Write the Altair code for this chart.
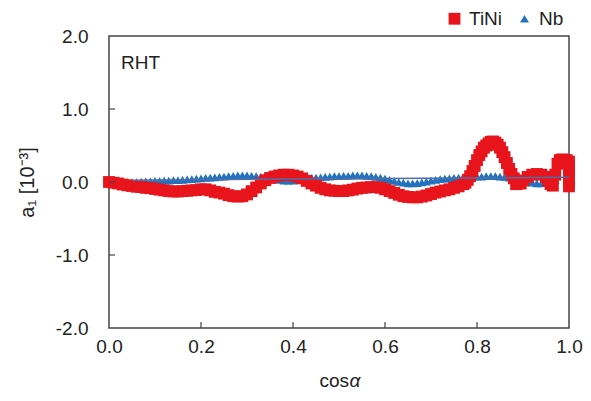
import altair as alt
import pandas as pd

# ---- data ----
tini_x = [0.00, 0.01, 0.02, 0.03, 0.04, 0.05, 0.06, 0.07, 0.08, 0.09,
          0.10, 0.11, 0.12, 0.13, 0.14, 0.15, 0.16, 0.17, 0.18, 0.19,
          0.20, 0.21, 0.22, 0.23, 0.24, 0.25, 0.26, 0.27, 0.28, 0.29,
          0.30, 0.31, 0.32, 0.33, 0.34, 0.35, 0.36, 0.37, 0.38, 0.39,
          0.40, 0.41, 0.42, 0.43, 0.44, 0.45, 0.46, 0.47, 0.48, 0.49,
          0.50, 0.51, 0.52, 0.53, 0.54, 0.55, 0.56, 0.57, 0.58, 0.59,
          0.60, 0.61, 0.62, 0.63, 0.64, 0.65, 0.66, 0.67, 0.68, 0.69,
          0.70, 0.71, 0.72, 0.73, 0.74, 0.75, 0.76, 0.77, 0.78, 0.79,
          0.80, 0.81, 0.82, 0.83, 0.84, 0.85, 0.86, 0.87, 0.88, 0.89,
          0.90, 0.91, 0.92, 0.93, 0.94, 0.95, 0.96, 0.97, 0.98, 0.99,
          1.00]
tini_y = [0.00, -0.01, -0.02, -0.035, -0.045, -0.055, -0.065, -0.07, -0.08, -0.085,
          -0.095, -0.105, -0.115, -0.125, -0.13, -0.13, -0.125, -0.12, -0.115, -0.11,
          -0.10, -0.10, -0.115, -0.135, -0.145, -0.16, -0.18, -0.195, -0.20, -0.195,
          -0.17, -0.125, -0.075, -0.02, 0.025, 0.055, 0.075, 0.09, 0.10, 0.10,
          0.09, 0.075, 0.05, 0.015, -0.02, -0.05, -0.08, -0.10, -0.115, -0.12,
          -0.125, -0.125, -0.115, -0.105, -0.09, -0.08, -0.075, -0.07, -0.07, -0.08,
          -0.10, -0.125, -0.15, -0.175, -0.195, -0.205, -0.21, -0.21, -0.20, -0.185,
          -0.165, -0.145, -0.13, -0.115, -0.10, -0.08, -0.06, -0.03, 0.03, 0.15,
          0.30, 0.42, 0.50, 0.55, 0.54, 0.47, 0.34, 0.18, 0.05, -0.02,
          0.02, 0.07, 0.10, 0.11, 0.10, 0.07, -0.03, 0.10, 0.30, 0.30,
          0.28]
# extra TiNi samples read between the grid points (steep parts and the right end)
tini_x_extra = [0.775, 0.785, 0.795, 0.805, 0.815, 0.825, 0.835, 0.845, 0.855,
                0.865, 0.875, 0.885, 0.895, 0.955, 0.965, 0.975, 0.985, 0.995,
                1.00, 1.00, 1.00, 1.00, 1.00]
tini_y_extra = [-0.01, 0.08, 0.22, 0.37, 0.47, 0.53, 0.555, 0.51, 0.41,
                0.26, 0.11, -0.03, -0.02, 0.02, -0.05, 0.25, 0.31, 0.30,
                0.22, 0.15, 0.08, 0.0, -0.06]

nb_x = [0.05, 0.06, 0.07, 0.08, 0.09, 0.10, 0.11, 0.12, 0.13, 0.14,
        0.15, 0.16, 0.17, 0.18, 0.19, 0.20, 0.21, 0.22, 0.23, 0.24,
        0.25, 0.26, 0.27, 0.28, 0.29, 0.30, 0.31, 0.32, 0.33, 0.34,
        0.35, 0.36, 0.37, 0.38, 0.39, 0.40, 0.41, 0.42, 0.43, 0.44,
        0.45, 0.46, 0.47, 0.48, 0.49, 0.50, 0.51, 0.52, 0.53, 0.54,
        0.55, 0.56, 0.57, 0.58, 0.59, 0.60, 0.61, 0.62, 0.63, 0.64,
        0.65, 0.66, 0.67, 0.68, 0.69, 0.70, 0.71, 0.72, 0.73, 0.74,
        0.75, 0.76, 0.77, 0.78, 0.79, 0.80, 0.81, 0.82, 0.83, 0.84,
        0.85, 0.86, 0.87, 0.88, 0.89, 0.90, 0.91, 0.92, 0.93, 0.94,
        0.95, 0.96, 0.97]
nb_y = [0.00, 0.00, 0.005, 0.01, 0.01, 0.015, 0.015, 0.02, 0.02, 0.025,
        0.025, 0.03, 0.035, 0.04, 0.045, 0.05, 0.055, 0.06, 0.065, 0.07,
        0.075, 0.08, 0.085, 0.09, 0.09, 0.09, 0.085, 0.08, 0.07, 0.06,
        0.05, 0.04, 0.03, 0.02, 0.02, 0.02, 0.025, 0.035, 0.045, 0.055,
        0.06, 0.065, 0.07, 0.075, 0.08, 0.08, 0.085, 0.085, 0.09, 0.09,
        0.09, 0.085, 0.08, 0.07, 0.06, 0.045, 0.03, 0.015, 0.00, -0.01,
        -0.02, -0.02, -0.015, -0.005, 0.005, 0.02, 0.03, 0.04, 0.045, 0.05,
        0.055, 0.06, 0.065, 0.07, 0.07, 0.075, 0.075, 0.08, 0.08, 0.08,
        0.075, 0.07, 0.06, 0.05, 0.035, 0.02, 0.005, -0.01, -0.02, -0.02,
        -0.01, 0.01, 0.03]

trend_x = [0.05, 1.00]
trend_y = [0.025, 0.065]

series_names = ["TiNi", "Nb"]
series_colors = ["#e8141c", "#2272bd"]
series_shapes = ["square", "triangle-up"]

y_tick_values = [-1.0, 0.0, 1.0]
x_tick_values = [0.2, 0.4, 0.6, 0.8]

# ---- tables ----
df_points = pd.concat([
    pd.DataFrame({"x": nb_x, "y": nb_y, "series": "Nb"}),
    pd.DataFrame({"x": tini_x + tini_x_extra, "y": tini_y + tini_y_extra, "series": "TiNi"}),
], ignore_index=True)
df_trend = pd.DataFrame({"x": trend_x, "y": trend_y})
df_yt = pd.DataFrame({"v": y_tick_values})
df_xt = pd.DataFrame({"v": x_tick_values})

W, H = 460, 292
FONT = "Liberation Sans"

xscale = alt.Scale(domain=[0, 1], nice=False, zero=False)
yscale = alt.Scale(domain=[-2, 2], nice=False, zero=False)

label_expr = "replace(format(datum.value, '.1f'), '\u2212', '-')"

points = alt.Chart(df_points).mark_point(filled=True, opacity=1, strokeWidth=0).encode(
    x=alt.X("x:Q", scale=xscale,
            axis=alt.Axis(values=[0, 0.2, 0.4, 0.6, 0.8, 1.0], labelExpr=label_expr,
                          labelFlush=False, title=None, labelPadding=9)),
    y=alt.Y("y:Q", scale=yscale,
            axis=alt.Axis(values=[-2, -1, 0, 1, 2], labelExpr=label_expr, labelFlush=False,
                          title="a₁ [10⁻³]", labelPadding=21, titlePadding=18,
                          titleFontSize=20)),
    color=alt.Color("series:N", scale=alt.Scale(domain=series_names, range=series_colors),
                    legend=alt.Legend(title=None, orient="none", legendX=336, legendY=-27,
                                      direction="horizontal", labelFontSize=19,
                                      labelFont=FONT, labelColor="#222", symbolSize=100,
                                      symbolStrokeWidth=0, labelOffset=5, columnPadding=12)),
    shape=alt.Shape("series:N", scale=alt.Scale(domain=series_names, range=series_shapes)),
    size=alt.Size("series:N", scale=alt.Scale(domain=series_names, range=[140, 80]), legend=None),
)

trend = alt.Chart(df_trend).mark_line(color="#4f6ea8", strokeWidth=1.5).encode(
    x=alt.X("x:Q", scale=xscale), y=alt.Y("y:Q", scale=yscale)
)

yticks = alt.Chart(df_yt).mark_rule(color="#444", strokeWidth=1.2).encode(
    y=alt.Y("v:Q", scale=yscale), x=alt.value(0), x2=alt.value(6)
)
xticks = alt.Chart(df_xt).mark_rule(color="#444", strokeWidth=1.2).encode(
    x=alt.X("v:Q", scale=xscale), y=alt.value(H), y2=alt.value(H - 6)
)

rht = alt.Chart(pd.DataFrame({"t": ["RHT"]})).mark_text(
    align="left", baseline="middle", font=FONT, fontSize=19, color="#222"
).encode(text="t:N", x=alt.value(12), y=alt.value(27))

# x-axis title "cos" + italic "α"
xt_cos = alt.Chart(pd.DataFrame({"t": ["cos"]})).mark_text(
    align="right", baseline="middle", font=FONT, fontSize=19, color="#222"
).encode(text="t:N", x=alt.value(W / 2 + 10), y=alt.value(H + 53))
xt_alpha = alt.Chart(pd.DataFrame({"t": ["α"]})).mark_text(
    align="left", baseline="middle", font=FONT, fontSize=19, fontStyle="italic", color="#222"
).encode(text="t:N", x=alt.value(W / 2 + 10.5), y=alt.value(H + 53))

chart = alt.layer(points, trend, yticks, xticks, rht, xt_cos, xt_alpha).properties(
    width=W, height=H,
    autosize="none",
    padding={"left": 101, "top": 28, "right": 14, "bottom": 65},
).configure_view(
    stroke="#444", strokeWidth=1.5
).configure_axis(
    grid=False, domain=False, ticks=False,
    labelFont=FONT, labelFontSize=19, labelColor="#222",
    titleFont=FONT, titleFontSize=19, titleColor="#222", titleFontWeight="normal",
)

chart.save("out.html", embed_options={"renderer": "svg", "actions": False})
